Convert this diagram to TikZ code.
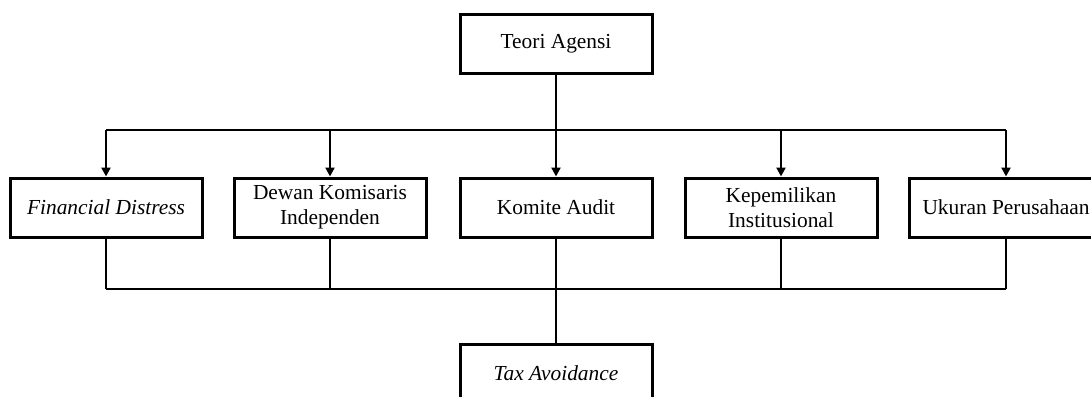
\documentclass[tikz,border=0pt]{standalone}
\usepackage{fontspec}
\setmainfont{Liberation Serif}
\usetikzlibrary{arrows.meta}
\begin{document}
\begin{tikzpicture}[x=1pt,y=-1pt,
  box/.style={draw, line width=3pt, minimum width=192pt, minimum height=58pt, inner sep=0pt, align=center, font=\fontsize{21.4}{25}\selectfont},
  conn/.style={line width=2.4pt},
  arr/.style={conn, -{Triangle[length=9pt,width=9pt]}}]
\useasboundingbox (0,0) rectangle (1091,396);
\node[box] (teori) at (556,44) {Teori Agensi};
\node[box, minimum height=59pt] (fd) at (106,207.5) {\textit{Financial Distress}};
\node[box, minimum height=59pt] (dk) at (330,207.5) {Dewan Komisaris\\Independen};
\node[box, minimum height=59pt] (ka) at (556,207.5) {Komite Audit};
\node[box, minimum height=59pt] (kp) at (781,207.5) {Kepemilikan\\Institusional};
\node[box, minimum height=59pt, minimum width=194pt] (uk) at (1006,207.5) {Ukuran Perusahaan};
\node[box] (tax) at (556,373) {\textit{Tax Avoidance}};
\coordinate (bus) at (556,130);
\coordinate (low) at (556,289);
\draw[conn] (fd.north |- bus) -- (uk.north |- bus);
\draw[conn] (teori.south) -- (teori.south |- bus);
\foreach \n in {fd,dk,ka,kp,uk} {
  \draw[arr] (\n.north |- bus) -- (\n.north);
  \draw[conn] (\n.south) -- (\n.south |- low);
}
\draw[conn] (fd.south |- low) -- (uk.south |- low);
\draw[conn] (ka.south |- low) -- (tax.north);
\end{tikzpicture}
\end{document}
